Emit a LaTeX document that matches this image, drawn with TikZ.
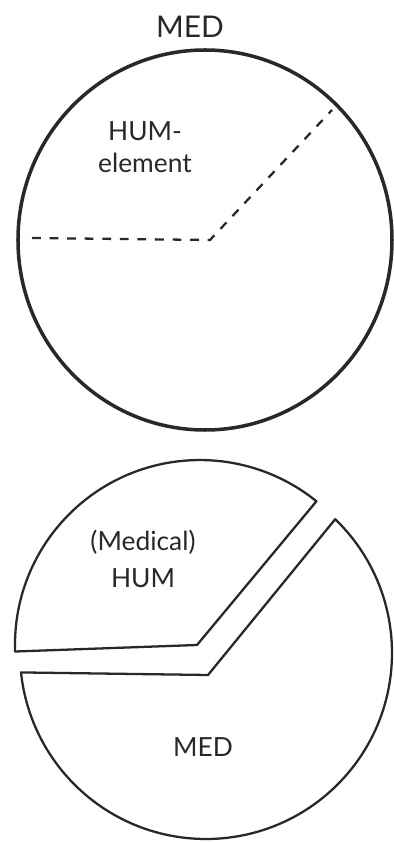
\documentclass[tikz,border=0pt]{standalone}
\usepackage{fontspec}
\setmainfont{Lato}
\usepackage{xcolor}
\usetikzlibrary{positioning,calc}
\definecolor{pencil}{RGB}{40,40,40}

\begin{document}
\begin{tikzpicture}[
  x=0.02cm, y=0.02cm,
  every node/.style={font=\fontsize{15}{18}\selectfont, text=pencil},
  rim/.style={draw=pencil, line width=2pt},
  slice/.style={draw=pencil, line width=1.3pt, line join=round},
  cut/.style={draw=pencil, line width=1.3pt, dash pattern=on 5pt off 5pt}
]
\useasboundingbox (0,0) rectangle (393,843);

% whole circle
\draw[rim] (205,603) ellipse [x radius=187, y radius=190];
\node[font=\fontsize{17}{20}\selectfont] (title) at (190,816) {MED};
\node[align=center] (humel) at (145,696) {HUM-\\element};
\coordinate (cl) at (32,605);
\coordinate (cm) at (210,603);
\coordinate (cr) at (332,733);
\draw[cut] (cl) -- (cm) -- (cr);

% split circle
\coordinate (ul) at (15.1,191.5);
\coordinate (uv) at (197,198);
\coordinate (lr) at (335.2,323.8);
\coordinate (lv) at (208,168);
\draw[slice] (ul) arc[start angle=182, end angle=51, radius=185] -- (uv) -- cycle;
\draw[slice] (lr) arc[start angle=46, end angle=-174, radius=186] -- (lv) -- cycle;

\node (medhum) at (143,301) {(Medical)};
\node[below=1pt of medhum] (hum) {HUM};
\node (med) at (203,96) {MED};
\end{tikzpicture}
\end{document}
